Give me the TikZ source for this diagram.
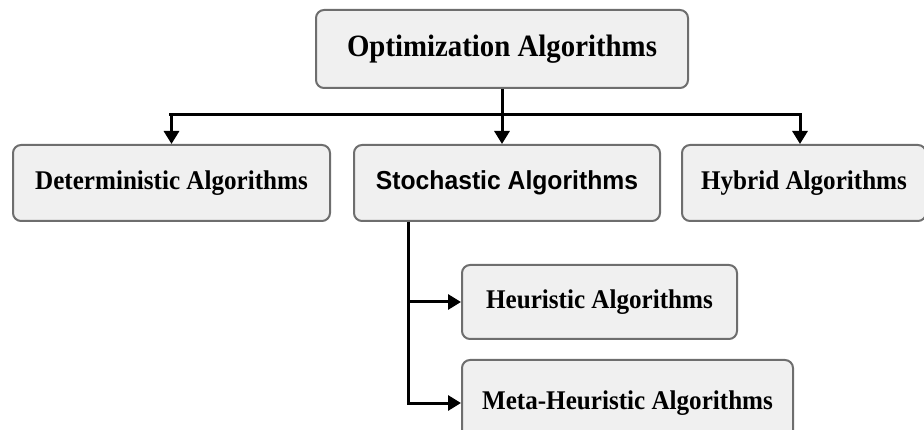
\documentclass[tikz,border=0pt]{standalone}
\usepackage{fontspec}
\setmainfont{Liberation Serif}[FakeStretch=0.93]
\newfontfamily\stofont{Liberation Sans}[FakeStretch=0.95]
\usepackage{xcolor}
\usetikzlibrary{arrows.meta, positioning}
\definecolor{boxfill}{RGB}{240,240,240}
\definecolor{boxline}{RGB}{110,110,110}

\begin{document}
\begin{tikzpicture}[
    x=1pt, y=-1pt,
    box/.style={rectangle, draw=boxline, line width=2pt, rounded corners=8pt, fill=boxfill, minimum width=#1, inner sep=0pt, font=\fontsize{27}{30}\selectfont\bfseries},
    arr/.style={line width=3pt, -{Triangle[length=13pt, width=15pt]}}
]
\useasboundingbox (0,0) rectangle (924,430);
\node[box=372pt, minimum height=78pt, font=\fontsize{31}{34}\selectfont\bfseries] (opt) at (502,49) {Optimization Algorithms};
\node[box=317pt, minimum height=76pt] (det) at (171.5,183) {Deterministic Algorithms};
\node[box=306pt, minimum height=76pt, font=\fontsize{26}{30}\stofont\bfseries] (sto) at (507,183) {Stochastic Algorithms};
\node[box=244pt, minimum height=76pt] (hyb) at (804,183) {Hybrid Algorithms};
\node[box=275pt, minimum height=74pt] (heu) at (599.5,302) {Heuristic Algorithms};
\node[box=331pt, minimum height=86pt] (meta) at (627.5,403) {Meta-Heuristic Algorithms};
\coordinate (split) at (502,115);
\draw[line width=3pt] (opt.south) -- (split);
\draw[line width=3pt] ([xshift=-2.5pt]det.north |- split) -- ([xshift=-2.5pt]hyb.north |- split);
\draw[arr] (det.north |- split) -- (det.north);
\draw[arr] (split) -- (split |- sto.north);
\draw[arr] ([xshift=-4pt]hyb.north |- split) -- ([xshift=-4pt]hyb.north);
\draw[arr] ([xshift=-99pt]sto.south) |- (heu.west);
\draw[arr] ([xshift=-99pt]sto.south) |- (meta.west);
\end{tikzpicture}
\end{document}
